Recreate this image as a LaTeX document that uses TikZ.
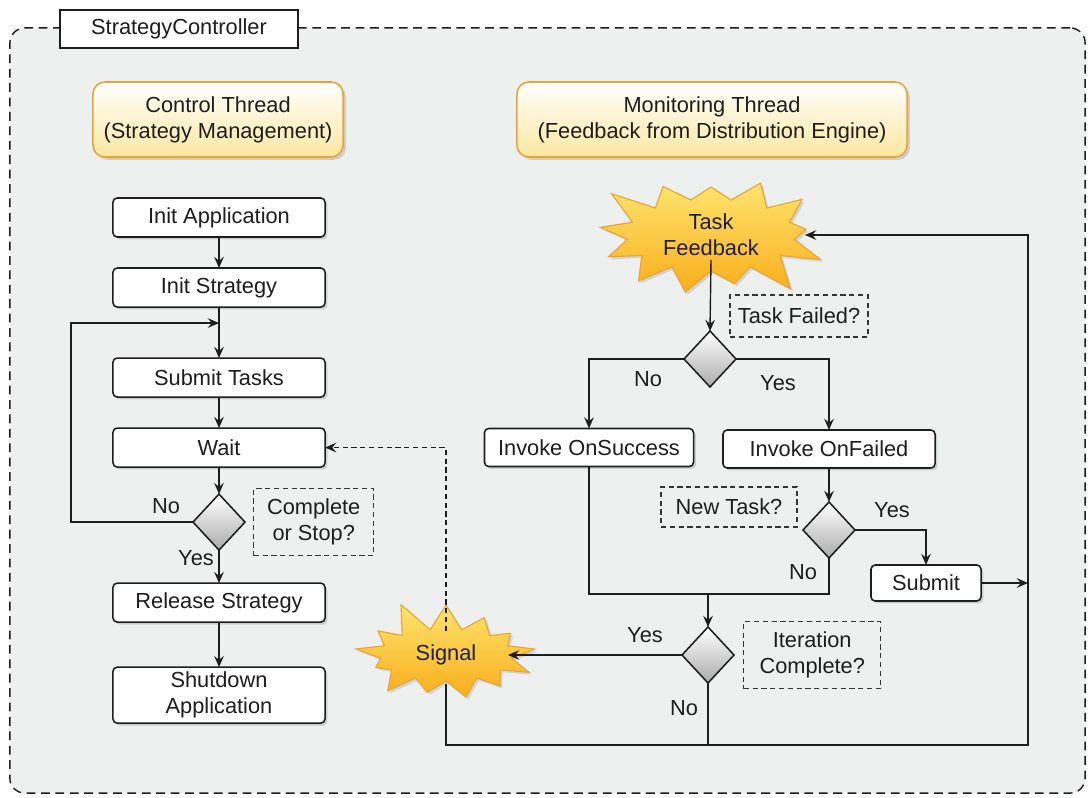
\documentclass[tikz,border=0pt]{standalone}
\usepackage{fontspec}
\setmainfont{Liberation Sans}
\usetikzlibrary{arrows.meta,positioning,shapes.geometric,shapes.symbols,shadows}
\definecolor{panel}{HTML}{EEEFEF}
\definecolor{ink}{HTML}{1E1E1E}
\definecolor{amber}{HTML}{E9A534}
\definecolor{cream}{HTML}{FCE7A0}
\definecolor{burst}{HTML}{F9AE1B}
\definecolor{burstlt}{HTML}{FFE46E}
\definecolor{steel}{HTML}{ABABAB}

\begin{document}
\begin{tikzpicture}[
		x=0.025cm, y=-0.025cm,
		font=\fontsize{15.5}{18.5}\selectfont,
		text=ink,
		every node/.style={align=center},
		ctrlbox/.style={rectangle, rounded corners=3.75mm, draw=ink, dashed,
				dash pattern=on 2.2mm off 1.4mm, line width=1pt, fill=panel,
				minimum width=26.875cm, minimum height=19.125cm},
		titlebox/.style={rectangle, draw=ink, line width=1pt, fill=white,
				minimum width=5.95cm, minimum height=0.95cm},
		thread/.style={rectangle, rounded corners=3mm, draw=amber, line width=1.1pt,
				top color=white, bottom color=cream, minimum height=1.875cm,
				drop shadow={shadow xshift=0.7mm, shadow yshift=-0.7mm, opacity=0.3}},
		stepbox/.style={rectangle, rounded corners=3pt, draw=ink, line width=1.1pt,
				fill=white, minimum width=5.3cm, minimum height=0.975cm, inner sep=2pt,
				outer sep=0pt,
				drop shadow={shadow xshift=0.6mm, shadow yshift=-0.6mm, opacity=0.3}},
		query/.style={rectangle, draw=ink!90, dashed, dash pattern=on 1.3mm off 0.9mm,
				line width=1pt, inner sep=2pt},
		decide/.style={diamond, draw=ink, line width=1.1pt, top color=white,
				bottom color=steel, minimum width=1.3cm, minimum height=1.4cm,
				inner sep=0pt, outer sep=0pt},
		burstnode/.style={starburst, starburst points=13, random starburst=7,
				draw=amber, line width=0.8pt, top color=burstlt, bottom color=burst,
				inner sep=0pt,
				drop shadow={shadow xshift=0.6mm, shadow yshift=-0.6mm, opacity=0.25}},
		tag/.style={inner sep=1pt},
		arr/.style={-{Stealth[length=2.8mm, width=2.4mm, inset=1mm]}, line width=1pt, ink},
		link/.style={line width=1pt, ink},
	]
	\useasboundingbox (0,0) rectangle (1090,797);

	% Outer frame
	\node[ctrlbox] (ctrl) at (547.5,410.5) {};
	\node[titlebox] (sc_title) at (179,29) {StrategyController};

	% Thread headers
	\node[thread, minimum width=6.25cm] (hdr_ctrl) at (218,119.5)
	{Control Thread\\(Strategy Management)};
	\node[thread, minimum width=9.75cm] (hdr_mon) at (712,119.5)
	{Monitoring Thread\\(Feedback from Distribution Engine)};

	% Control thread
	\node[stepbox] (init_app) at (219,217.5) {Init Application};
	\node[stepbox, below=7.75mm of init_app] (init_str) {Init Strategy};
	\node[stepbox, below=12.75mm of init_str] (sub_tasks) {Submit Tasks};
	\node[stepbox, below=7.75mm of sub_tasks] (wait) {Wait};
	\node[decide, below=6.75mm of wait] (d_done) {};
	\node[query, right=2mm of d_done, minimum width=3cm, minimum height=1.675cm]
	(q_done) {Complete\\or Stop?};
	\node[stepbox, below=8.25mm of d_done] (release) {Release Strategy};
	\node[stepbox, below=11.25mm of release, minimum height=1.4cm] (shut)
	{Shutdown\\Application};
	\coordinate[below=4mm of init_str] (loop_in);

	\node[tag] (no_done) at (166,506) {No};
	\node[tag] (yes_done) at (196,558) {Yes};

	% Monitoring thread
	\node[burstnode, minimum width=6.1cm, minimum height=3.7cm,
		starburst point height=0.95cm, random starburst=3] (feedback)
	at (711,235) {Task\\Feedback};
	\node[decide] (d_fail) at (710,359) {};
	\node[query, minimum width=3.45cm, minimum height=1.05cm] (q_fail)
	at (799,316) {Task Failed?};
	\node[stepbox, minimum width=5.225cm, minimum height=0.95cm] (on_succ)
	at (589,447.5) {Invoke OnSuccess};
	\node[stepbox, minimum width=5.3cm, minimum height=0.95cm] (on_fail)
	at (829,449) {Invoke OnFailed};
	\node[decide] (d_new) at (829,530) {};
	\node[query, minimum width=3.4cm, minimum height=1cm] (q_new)
	at (729,507) {New Task?};
	\node[stepbox, minimum width=2.75cm, minimum height=0.9cm] (submit)
	at (926,583) {Submit};
	\node[decide] (d_iter) at (708,655) {};
	\node[query, right=2.25mm of d_iter, minimum width=3.425cm,
		minimum height=1.675cm] (q_iter) {Iteration\\Complete?};
	\node[burstnode, minimum width=4.9cm, minimum height=2.9cm,
		starburst point height=0.8cm, random starburst=11] (signal)
	at (446,655) {Signal};

	\coordinate (merge) at (708,594);
	\coordinate (corner) at (1028,745);

	\node[tag] (no_fail) at (648,379) {No};
	\node[tag] (yes_fail) at (778,383) {Yes};
	\node[tag] (yes_new) at (892,510) {Yes};
	\node[tag] (no_new) at (803,572) {No};
	\node[tag] (yes_iter) at (645,635) {Yes};
	\node[tag] (no_iter) at (684,708) {No};

	% Control thread connectors
	\draw[arr] (init_app) -- (init_str);
	\draw[arr] (init_str) -- (sub_tasks);
	\draw[arr] (sub_tasks) -- (wait);
	\draw[arr] (wait) -- (d_done);
	\draw[arr] (d_done) -- (release);
	\draw[arr] (release) -- (shut);
	\draw[arr] (d_done.west) -- ++(-122,0) |- (loop_in);

	% Monitoring thread connectors
	\draw[arr] ([yshift=-0.62cm]feedback.center) -- (d_fail.north);
	\draw[arr] (d_fail.west) -| (on_succ.north);
	\draw[arr] (d_fail.east) -| (on_fail.north);
	\draw[arr] (on_fail) -- (d_new);
	\draw[arr] (d_new.east) -| (submit.north);
	\draw[link] (on_succ.south) |- (merge) -| (d_new.south);
	\draw[arr] (merge) -- (d_iter.north);
	\draw[arr] (d_iter.west) -- ([xshift=1.55cm]signal.center);
	\draw[link] (d_iter.south) -- (d_iter.south |- corner);
	\draw[arr] (submit.east) -- (submit.east -| corner);
	\draw[arr] ([yshift=-0.72cm]signal.center) |- (corner)
	|- ([xshift=2.35cm]feedback.center);
	\draw[arr, dashed, dash pattern=on 1.3mm off 0.9mm]
	([yshift=0.6cm]signal.center) |- (wait.east);

\end{tikzpicture}
\end{document}
